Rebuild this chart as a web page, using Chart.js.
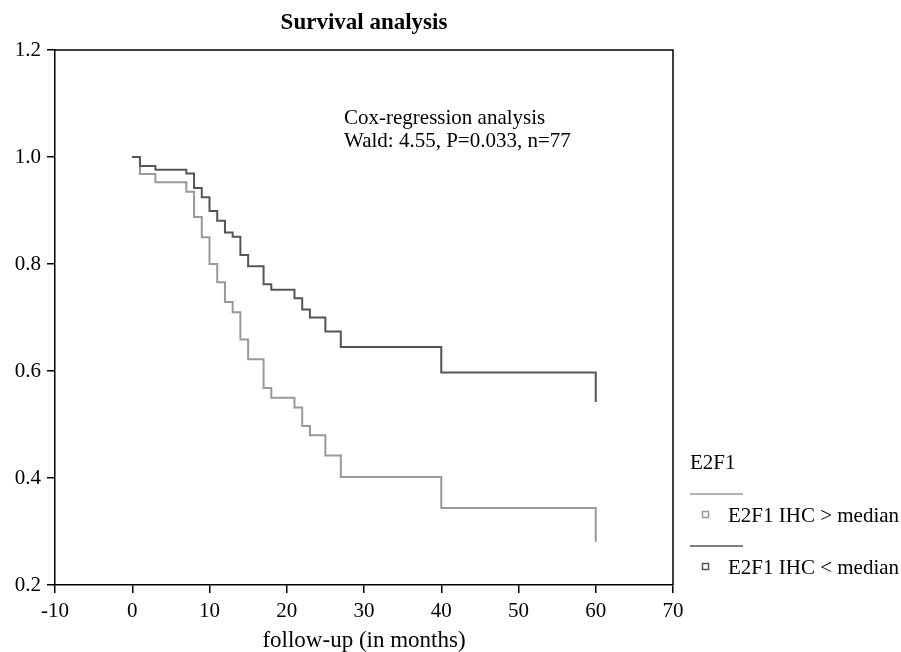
<!DOCTYPE html>
<html><head><meta charset="utf-8">
<script src="https://cdn.jsdelivr.net/npm/chart.js@4/dist/chart.umd.min.js"></script>
<style>html,body{margin:0;padding:0;background:#fff}</style>
</head><body>
<canvas id="c" width="901" height="652"></canvas>
<script>
// Kaplan-Meier steps
const lowMonths  = [0, 1, 3, 7, 8, 9, 10, 11, 12, 13, 14, 15, 17, 18, 21, 22, 23, 25, 27, 40, 60];
const lowSurv    = [1.000, 0.983, 0.976, 0.969, 0.942, 0.925, 0.899, 0.881, 0.859, 0.851, 0.817, 0.796, 0.762, 0.752, 0.736, 0.715, 0.700, 0.674, 0.645, 0.597, 0.542];
const highMonths = [0, 1, 3, 7, 8, 9, 10, 11, 12, 13, 14, 15, 17, 18, 21, 22, 23, 25, 27, 40, 60];
const highSurv   = [1.000, 0.968, 0.953, 0.935, 0.888, 0.850, 0.800, 0.766, 0.729, 0.710, 0.659, 0.622, 0.568, 0.550, 0.532, 0.497, 0.480, 0.442, 0.402, 0.344, 0.281];
const xTicks = [-10, 0, 10, 20, 30, 40, 50, 60, 70];
const yTicks = [0.2, 0.4, 0.6, 0.8, 1.0, 1.2];
const seriesLabels = ['E2F1 IHC > median', 'E2F1 IHC < median'];
const legendTitle = 'E2F1';
const chartTitle = 'Survival analysis';
const noteLines = ['Cox-regression analysis', 'Wald: 4.55, P=0.033, n=77'];
const xTitle = 'follow-up (in months)';

const FAM = '"Liberation Serif", "Times New Roman", serif';
const LIGHT = '#999999';
const DARK = '#555555';

const pts = (xs, ys) => xs.map((x, i) => ({x, y: ys[i]}));

const decor = {
  id: 'decor',
  afterDraw(chart) {
    const ctx = chart.ctx, a = chart.chartArea;
    ctx.save();
    // box top/right
    ctx.strokeStyle = '#000'; ctx.lineWidth = 1.5;
    ctx.beginPath();
    ctx.moveTo(a.left, a.top); ctx.lineTo(a.right, a.top); ctx.lineTo(a.right, a.bottom);
    ctx.stroke();
    // title
    ctx.fillStyle = '#000';
    ctx.font = 'bold 23px ' + FAM;
    ctx.textAlign = 'center'; ctx.textBaseline = 'middle';
    ctx.fillText(chartTitle, (a.left + a.right) / 2, 23);
    // note
    ctx.font = '21px ' + FAM;
    ctx.textAlign = 'left';
    ctx.fillText(noteLines[0], 344, 118);
    ctx.fillText(noteLines[1], 344, 141);
    // legend
    ctx.font = '21px ' + FAM;
    ctx.fillText(legendTitle, 690, 463);
    const items = [{c: LIGHT, t: seriesLabels[0], ly: 494, sy: 514.5}, {c: DARK, t: seriesLabels[1], ly: 546, sy: 566.5}];
    items.forEach(it => {
      ctx.strokeStyle = it.c; ctx.lineWidth = 1.5;
      ctx.beginPath(); ctx.moveTo(690, it.ly); ctx.lineTo(743, it.ly); ctx.stroke();
      ctx.strokeRect(702.5, it.sy - 3, 6, 6);
      ctx.fillStyle = '#000';
      ctx.fillText(it.t, 728, it.sy + 2);
    });
    ctx.restore();
  }
};

new Chart(document.getElementById('c'), {
  type: 'line',
  data: {
    datasets: [
      {label: seriesLabels[1], data: pts(lowMonths, lowSurv), borderColor: DARK, borderWidth: 2, stepped: 'before', pointRadius: 0, fill: false},
      {label: seriesLabels[0], data: pts(highMonths, highSurv), borderColor: LIGHT, borderWidth: 2, stepped: 'before', pointRadius: 0, fill: false}
    ]
  },
  options: {
    responsive: false, animation: false, devicePixelRatio: 1,
    layout: {padding: {top: 50, right: 228, left: 0, bottom: 0}},
    plugins: {legend: {display: false}, title: {display: false}, tooltip: {enabled: false}},
    scales: {
      x: {
        type: 'linear', min: -10, max: 70,
        afterBuildTicks(s) { s.ticks = xTicks.map(v => ({value: v})); },
        ticks: {color: '#000', font: {family: FAM, size: 21}, padding: 6, maxRotation: 0, autoSkip: false},
        grid: {display: true, drawOnChartArea: false, drawTicks: true, tickLength: 8, color: '#000', lineWidth: 1.5},
        border: {display: true, color: '#000', width: 1.5},
        title: {display: true, text: xTitle, color: '#000', font: {family: FAM, size: 23}, padding: {top: 2, bottom: -3}},
        afterFit(s) { s.height = 67; }
      },
      y: {
        type: 'linear', min: 0.2, max: 1.2,
        afterBuildTicks(s) { s.ticks = yTicks.map(v => ({value: v})); },
        ticks: {color: '#000', font: {family: FAM, size: 21}, padding: 6, callback: v => Number(v).toFixed(1)},
        grid: {display: true, drawOnChartArea: false, drawTicks: true, tickLength: 8, color: '#000', lineWidth: 1.5},
        border: {display: true, color: '#000', width: 1.5},
        afterFit(s) { s.width = 55; }
      }
    }
  },
  plugins: [decor]
});
</script>
</body></html>
